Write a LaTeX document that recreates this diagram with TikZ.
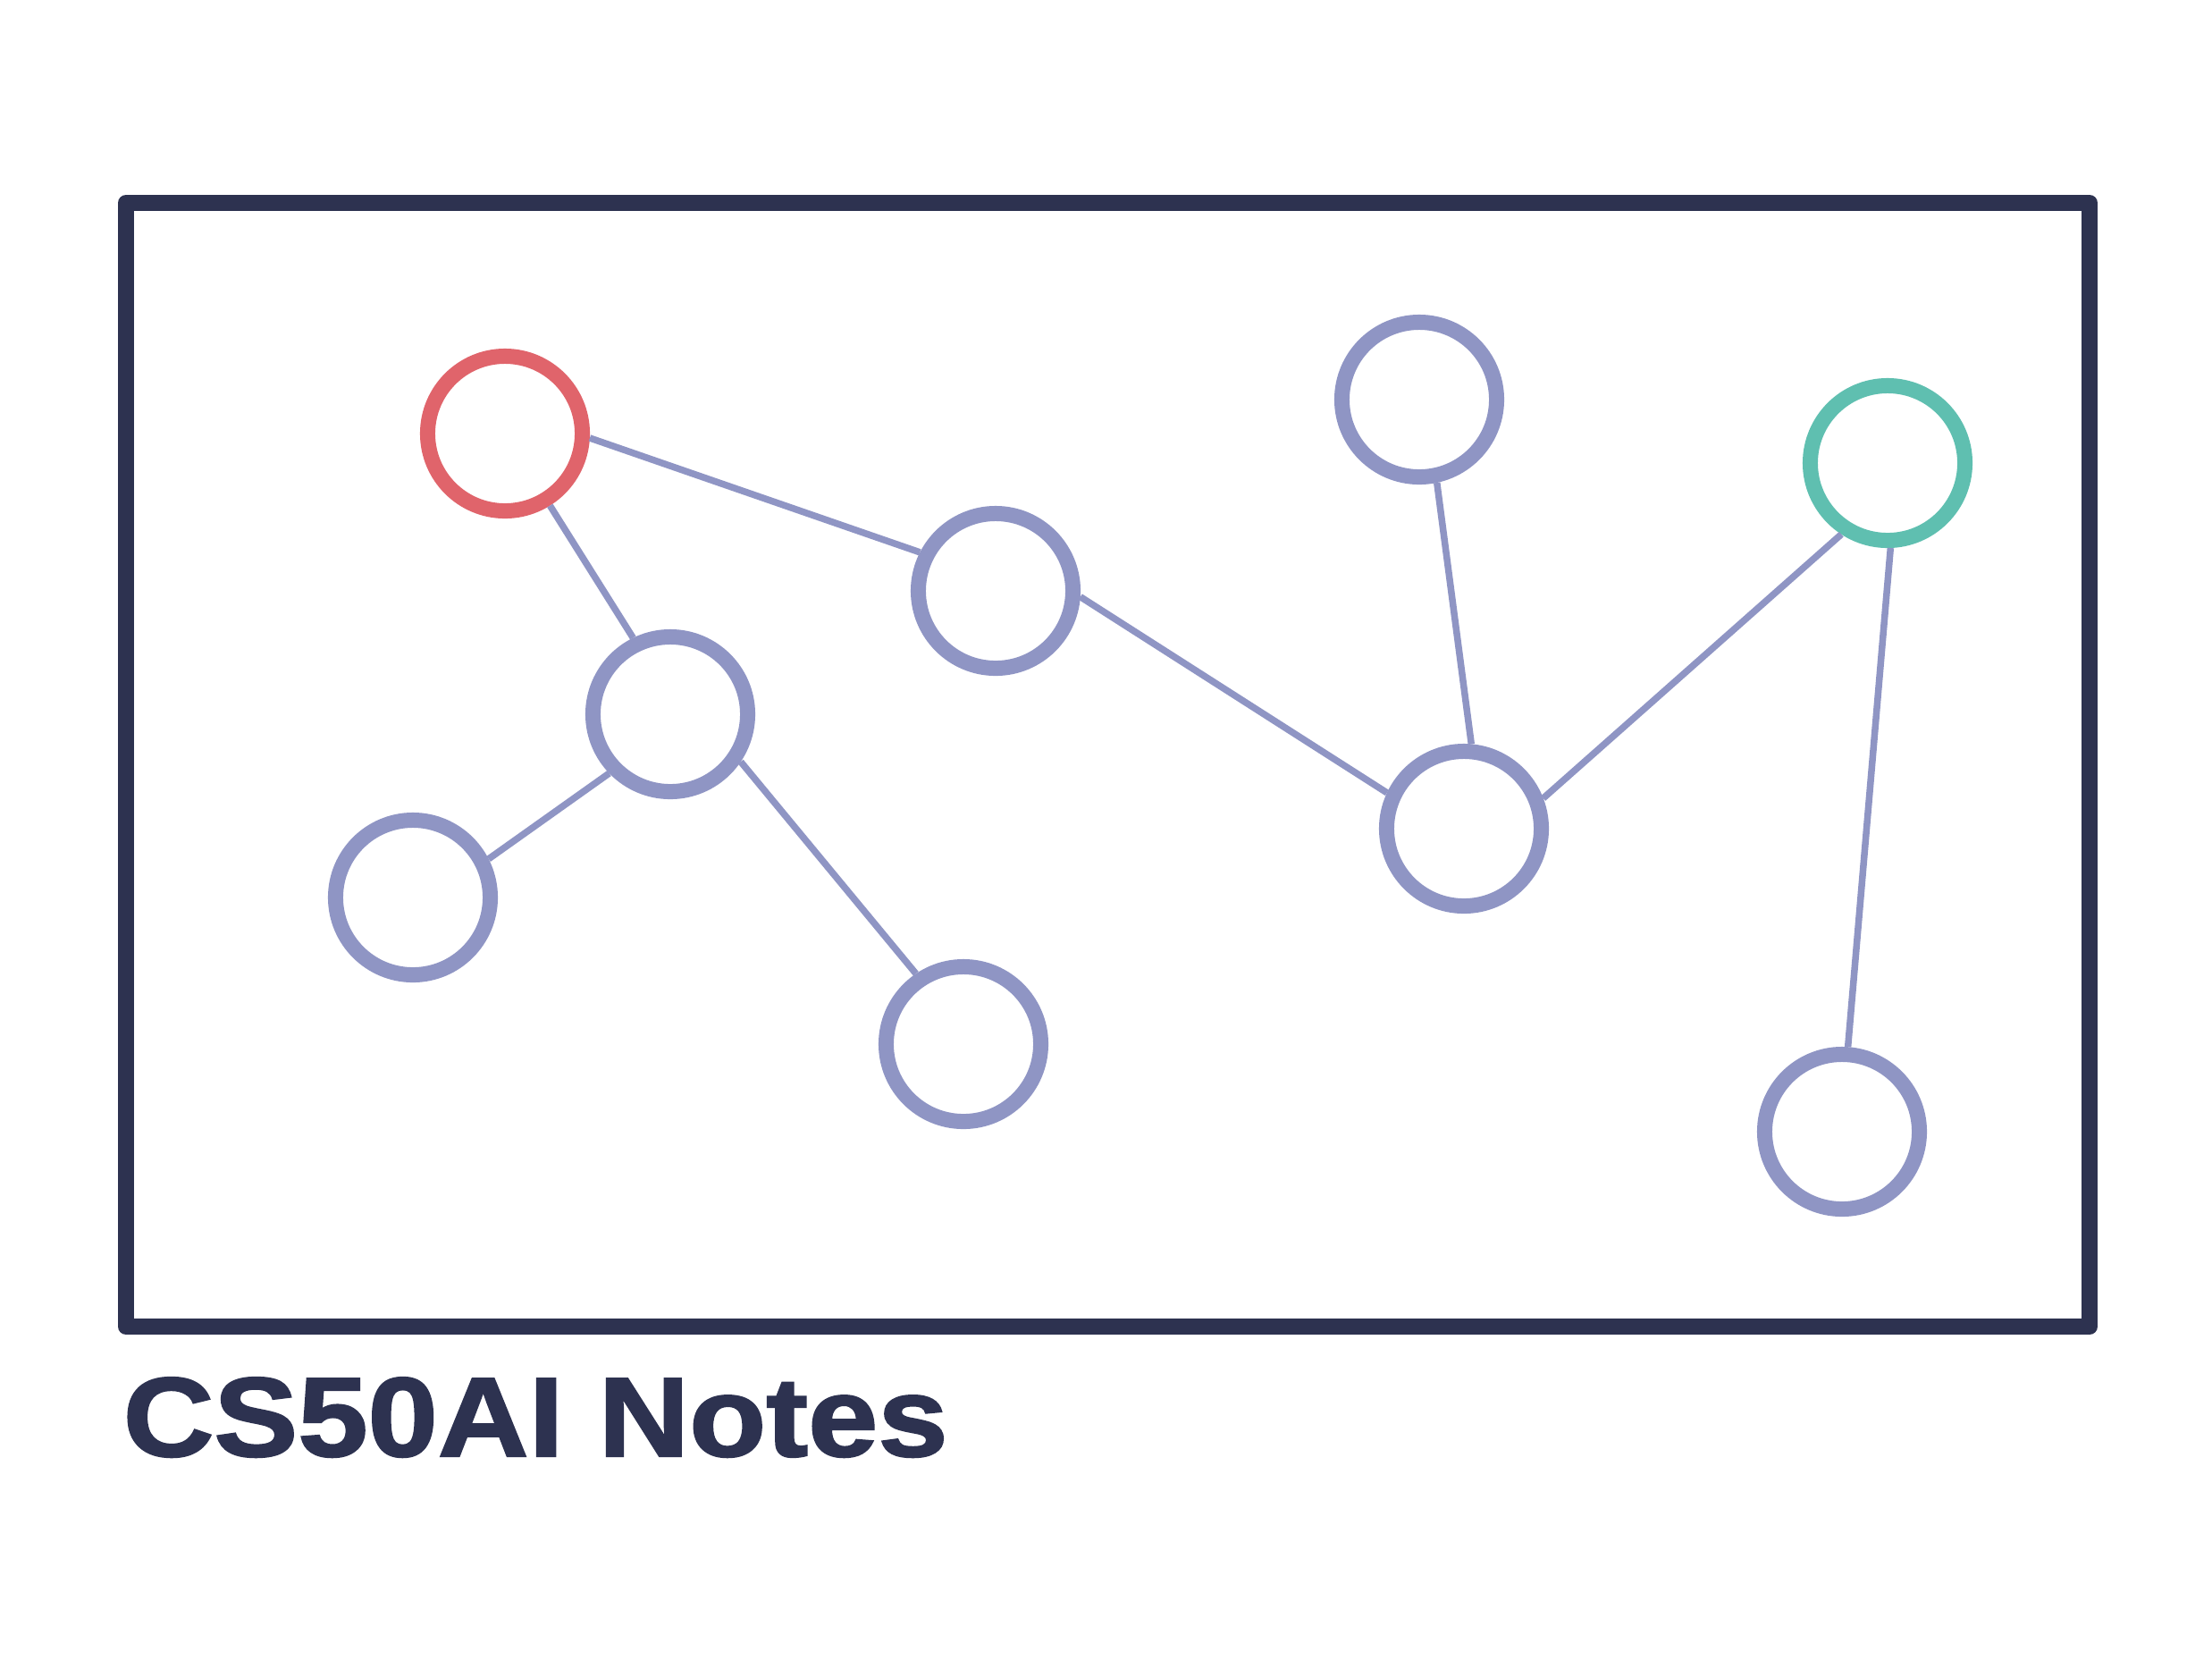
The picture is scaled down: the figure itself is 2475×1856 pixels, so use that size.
\documentclass[tikz,border=0pt]{standalone}
\usepackage{fontspec}
\setmainfont{Liberation Sans}
\newfontfamily\titlefont{Liberation Sans}[BoldFeatures={FakeBold=1.6}]
\usetikzlibrary{positioning}
\definecolor{NoteNavy}{RGB}{45,50,80}
\definecolor{NodeBlue}{RGB}{143,149,196}
\definecolor{StartRed}{RGB}{224,100,107}
\definecolor{GoalTeal}{RGB}{95,191,176}
\tikzset{
  vertex/.style={circle,draw=NodeBlue,fill=white,line width=0.17cm,
    inner sep=0pt,minimum size=1.73cm},
  startvertex/.style={vertex,draw=StartRed},
  goalvertex/.style={vertex,draw=GoalTeal},
  link/.style={draw=NodeBlue,line width=0.075cm},
  frame/.style={draw=NoteNavy,line width=0.18cm,line join=round}
}
\begin{document}
\begin{tikzpicture}[x=0.01cm,y=-0.01cm]
  \useasboundingbox (0,0) rectangle (2475,1856);
  \draw[frame] (141,227) rectangle (2338,1484);
  % graph
  \node[startvertex] (a) at (565,485) {};
  \node[vertex] (b) at (750,799) {};
  \node[vertex] (c) at (462,1004) {};
  \node[vertex] (d) at (1114,661) {};
  \node[vertex] (e) at (1078,1168) {};
  \node[vertex] (f) at (1588,447) {};
  \node[vertex] (g) at (1638,927) {};
  \node[goalvertex] (h) at (2112,518) {};
  \node[vertex] (i) at (2061,1266) {};
  \draw[link] (a.-3) -- (d.153);
  \draw[link] (a.-58) -- (b.116);
  \draw[link] (b.224) -- (c.27);
  \draw[link] (b.-34) -- (e.124);
  \draw[link] (d.-4) -- (g.155);
  \draw[link] (f.-78) -- (g.85);
  \draw[link] (g.21) -- (h.237);
  \draw[link] (h.-88) -- (i.86);
  \node[anchor=base west,inner sep=0pt,text=NoteNavy,xscale=1.115,
    font=\fontsize{35.9pt}{40pt}\titlefont\bfseries] (title) at (137,1629) {CS50AI Notes};
\end{tikzpicture}
\end{document}
